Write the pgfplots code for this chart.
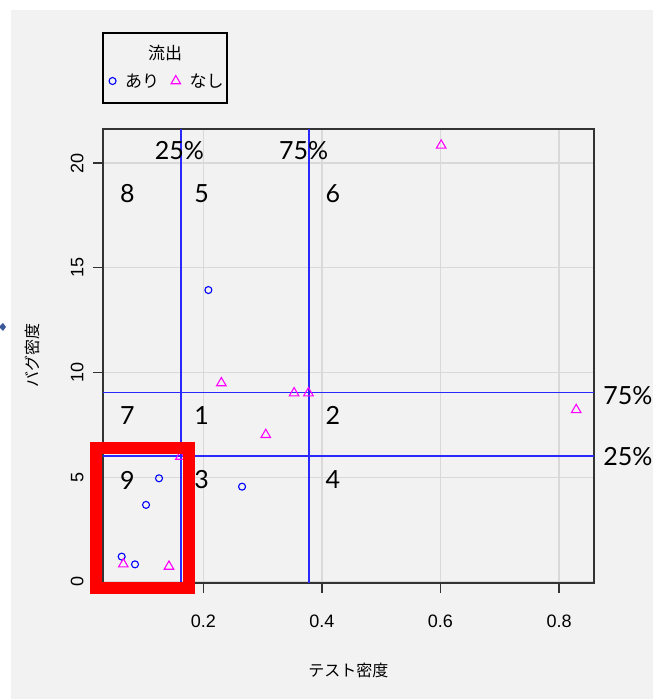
\documentclass[border=0pt]{standalone}
\usepackage{fontspec}
\setmainfont{Liberation Sans}
\newfontfamily\jp{Noto Sans CJK JP}
\newfontfamily\gill{Lato}
\usepackage{pgfplots}
\pgfplotsset{compat=1.18}
\definecolor{bg}{HTML}{F2F2F2}
\definecolor{gridc}{HTML}{D9D9D9}
\definecolor{axc}{HTML}{333333}
\definecolor{arrowc}{HTML}{3B5998}
\definecolor{lblue}{HTML}{2828FF}
\definecolor{pblue}{HTML}{0000FF}
\definecolor{pmag}{HTML}{FF00FF}
\definecolor{pred}{HTML}{FF0000}
\begin{document}
\begin{tikzpicture}[x=1pt,y=1pt]
\useasboundingbox (-103,-116) rectangle (550,583);
\fill[white] (-103,-116) rectangle (550,583);
\fill[bg] (-92,-116) rectangle (550,573);
\fill[arrowc] (-104,256) -- (-100,260) -- (-97,256) -- (-100,252) -- cycle;
\begin{axis}[
  at={(0,0)}, anchor=south west, scale only axis, width=491pt, height=454pt,
  xmin=0.0307, xmax=0.859, ymin=-0.05, ymax=21.63,
  clip=false,
  axis background/.style={fill=bg},
  axis line style={axc, line width=1.3pt},
  xtick={0.2,0.4,0.6,0.8}, ytick={0,5,10,15,20},
  tick align=outside, major tick length=10pt,
  tick style={axc, line width=1.3pt},
  xtick pos=bottom, ytick pos=left,
  grid=major, major grid style={gridc, line width=1.3pt},
  ticklabel style={font=\fontsize{18}{20}\selectfont},
  /pgf/number format/assume math mode=true,
  xticklabel={\pgfmathprintnumber[fixed,precision=1]{\tick}},
  yticklabel={\pgfmathprintnumber[fixed,precision=0]{\tick}},
  yticklabel style={rotate=90, anchor=south},
  xticklabel style={anchor=north},
  xticklabel shift=18pt, yticklabel shift=6pt,
  xlabel={テスト密度}, ylabel={バグ密度},
  xlabel style={font=\jp\fontsize{16}{18}\selectfont, at={(axis description cs:0.5,-0.1916)}, anchor=center},
  ylabel style={font=\jp\fontsize{16}{18}\selectfont, at={(axis description cs:-0.1446,0.5)}, anchor=center},
  legend columns=2,
  legend style={at={(axis description cs:0.131,1.1057)}, anchor=center, draw=none, fill=none,
    font=\jp\fontsize{17}{19}\selectfont,
    /tikz/every odd column/.append style={column sep=7pt},
    /tikz/every even column/.append style={column sep=10pt}},
]
% quartile lines
\addplot[color=lblue, line width=1.5pt, forget plot] coordinates {(0.1624,-0.05) (0.1624,21.63)};
\addplot[color=lblue, line width=1.5pt, forget plot] coordinates {(0.378,-0.05) (0.378,21.63)};
\addplot[color=lblue, line width=1.5pt, forget plot] coordinates {(0.0307,9.04) (0.859,9.04)};
\addplot[color=lblue, line width=1.5pt, forget plot] coordinates {(0.0307,6.02) (0.859,6.02)};
% data
\addplot[only marks, mark=o, color=pblue, mark size=3.5pt, line width=1.1pt] coordinates {
(0.2085,13.94) (0.1252,4.95) (0.1033,3.68) (0.2653,4.55) (0.0622,1.21) (0.0847,0.84)};
\addlegendentry{あり}
\addplot[only marks, mark=triangle, color=pmag, mark size=5.5pt, line width=1.1pt] coordinates {
(0.6012,20.85) (0.2304,9.50) (0.3531,9.02) (0.3773,9.02) (0.829,8.22) (0.3053,7.03) (0.1612,5.99) (0.065,0.85) (0.142,0.74)};
\addlegendentry{なし}
% legend box and title
\draw[black, line width=1.3pt] (axis description cs:0,1.057) rectangle (axis description cs:0.2525,1.2115);
\node[font=\jp\fontsize{17}{19}\selectfont] at (axis description cs:0.1263,1.1674) {流出};
% region labels
\begin{scope}[every node/.style={font=\gill\fontsize{25}{30}\selectfont}]
\node at (axis cs:0.0717,18.53) {8};
\node at (axis cs:0.197,18.53) {5};
\node at (axis cs:0.4184,18.53) {6};
\node at (axis cs:0.0717,7.93) {7};
\node at (axis cs:0.197,7.93) {1};
\node at (axis cs:0.4184,7.93) {2};
\node at (axis cs:0.0717,4.87) {9};
\node at (axis cs:0.197,4.87) {3};
\node at (axis cs:0.4184,4.87) {4};
\node at (axis cs:0.1595,20.6) {25\%};
\node at (axis cs:0.369,20.6) {75\%};
\node at (axis cs:0.916,8.9) {75\%};
\node at (axis cs:0.916,6.0) {25\%};
\end{scope}
\end{axis}
\draw[pred, line width=12pt] (-7,-5) rectangle (86,135);
\end{tikzpicture}
\end{document}
